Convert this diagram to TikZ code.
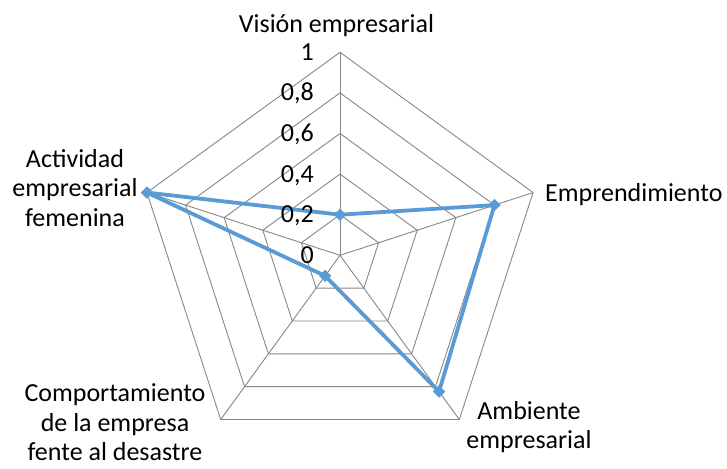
\documentclass[tikz,border=0pt]{standalone}
\usepackage{fontspec}
\setmainfont{Carlito}
\usetikzlibrary{shapes.geometric}
\definecolor{gridgray}{HTML}{878787}
\definecolor{serieblue}{HTML}{5B9BD5}
\begin{document}
\begin{tikzpicture}[x=1pt,y=1pt,
 gridline/.style={draw=gridgray, line width=0.9pt},
 serie/.style={draw=serieblue, line width=3.8pt, line join=round},
 marker/.style={diamond, fill=serieblue, inner sep=0pt, minimum size=12.5pt},
 axlabel/.style={font=\fontsize{26}{29.5}\selectfont, align=center, inner sep=0pt},
 ticklabel/.style={font=\fontsize{26}{29.5}\selectfont, inner sep=0pt, anchor=base east}]
\useasboundingbox (0,0) rectangle (727,468);
\coordinate (C) at (340,212.7);
% axes end points
\foreach \a [count=\i] in {90,18,-54,-126,162} {
  \coordinate (v\i) at ([shift={(\a:203)}]C);
}
% rings
\foreach \k in {1,...,5} {
  \draw[gridline] ([shift={(90:40.6*\k)}]C) -- ([shift={(18:40.6*\k)}]C) -- ([shift={(-54:40.6*\k)}]C) -- ([shift={(-126:40.6*\k)}]C) -- ([shift={(162:40.6*\k)}]C) -- cycle;
}
% spokes
\foreach \i in {1,...,5} { \draw[gridline] (C) -- (v\i); }
% data
\coordinate (d1) at ([shift={(90:0.2*203)}]C);
\coordinate (d2) at ([shift={(18:0.8*203)}]C);
\coordinate (d3) at ([shift={(-54:0.83*203)}]C);
\coordinate (d4) at ([shift={(-126:0.125*203)}]C);
\coordinate (d5) at ([shift={(162:1.0*203)}]C);
\draw[serie] (d1) -- (d2) -- (d3) -- (d4) -- (d5) -- cycle;
\foreach \i in {1,...,5} { \node[marker] (m\i) at (d\i) {}; }
% tick labels
\node[ticklabel] (t0) at (314,204.7) {0};
\node[ticklabel] (t1) at (314,245.3) {0,2};
\node[ticklabel] (t2) at (314,285.9) {0,4};
\node[ticklabel] (t3) at (314,326.5) {0,6};
\node[ticklabel] (t4) at (314,367.1) {0,8};
\node[ticklabel] (t5) at (314,407.7) {1};
% category labels
\node[axlabel, anchor=base] (lv) at (336.5,435) {Visión empresarial};
\node[axlabel, anchor=base west] (le) at (545,266) {Emprendimiento};
\node[axlabel] (la) at (529,41) {Ambiente\\empresarial};
\node[axlabel] (lc) at (115,45.5) {Comportamiento\\de la empresa\\fente al desastre};
\node[axlabel] (lf) at (75,280) {Actividad\\empresarial\\femenina};
\end{tikzpicture}
\end{document}
